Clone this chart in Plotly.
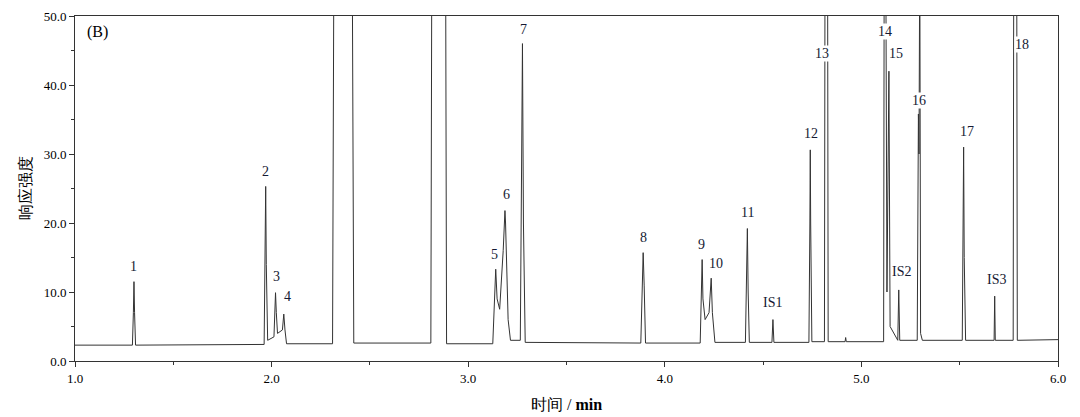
import plotly.graph_objs as go

# chromatogram points (min, response)
time = [1.00, 1.292, 1.297, 1.30, 1.303, 1.308, 1.962, 1.967, 1.97, 1.973, 1.98, 2.012, 2.018, 2.02, 2.024, 2.03,
        2.055, 2.062, 2.068, 2.076, 2.31, 2.317, 2.41, 2.418, 2.81, 2.815, 2.885, 2.89, 3.125, 3.133,
        3.14, 3.147, 3.16, 3.178, 3.187, 3.19, 3.195, 3.203, 3.215, 3.265, 3.272, 3.276, 3.281, 3.29, 3.878, 3.885, 3.89, 3.895,
        3.902, 4.18, 4.186, 4.19, 4.194, 4.205, 4.225, 4.232, 4.236, 4.242, 4.255, 4.41, 4.416, 4.42, 4.424, 4.43,
        4.545, 4.55, 4.555, 4.733, 4.738, 4.74, 4.742, 4.748, 4.812, 4.815, 4.828, 4.831, 4.917, 4.92,
        4.923, 5.113, 5.116, 5.124, 5.13, 5.14, 5.146, 5.185, 5.19, 5.195, 5.284, 5.29, 5.293, 5.297,
        5.301, 5.31, 5.513, 5.517, 5.52, 5.523, 5.53, 5.675, 5.678, 5.681, 5.772, 5.775, 5.79, 5.793, 6.00]
signal = [2.3, 2.3, 7, 11.5, 7, 2.3, 2.4, 14, 25.3, 14, 3, 3.5, 8, 9.9, 7, 4,
          4.5, 6.8, 4.5, 2.5, 2.5, 60, 60, 2.6, 2.6, 60, 60, 2.5, 2.5, 9,
          13.3, 9, 7.5, 16, 21.8, 20, 15, 6, 3, 3, 30, 46.0, 20, 2.7, 2.6, 11, 15.7, 11,
          2.6, 2.6, 10, 14.7, 9, 6, 7, 11.5, 12.0, 7, 2.7, 2.7, 12, 19.2, 10, 2.7,
          2.7, 6.0, 2.7, 2.7, 20, 30.6, 20, 2.8, 2.8, 60, 60, 2.8, 2.8, 3.4,
          2.8, 2.8, 60, 60, 10, 42, 5, 3, 10.3, 3, 3, 35.8, 30, 60,
          4, 3, 3, 22, 31.0, 15, 3, 3, 9.4, 3, 3, 60, 60, 3, 3.1]

peak_names = ['1', '2', '3', '4', '5', '6', '7', '8', '9', '10', '11', 'IS1', '12', '13',
              '14', '15', 'IS2', '16', '17', 'IS3', '18']
peak_x = [1.30, 1.97, 2.025, 2.08, 3.135, 3.195, 3.28, 3.89, 4.185, 4.26, 4.42, 4.55, 4.745, 4.80,
          5.12, 5.175, 5.205, 5.295, 5.535, 5.685, 5.815]
peak_y = [13.7, 27.4, 12.2, 9.3, 15.5, 24.2, 48.0, 17.9, 16.9, 14.2, 21.5, 8.5, 33.0, 44.5,
          47.8, 44.5, 13.0, 37.8, 33.2, 11.8, 45.8]
boxed = ['13', '14', '15', '16', '18', 'IS2']

serif = 'Liberation Serif, Times New Roman, serif'

fig = go.Figure(go.Scatter(x=time, y=signal, mode='lines',
                           line=dict(color='#333333', width=1), showlegend=False))

for n, x, y in zip(peak_names, peak_x, peak_y):
    fig.add_annotation(x=x, y=y, text=n, showarrow=False,
                       font=dict(family=serif, size=14, color='#151a33'),
                       bgcolor='white' if n in boxed else 'rgba(0,0,0,0)', borderpad=0)

fig.add_annotation(x=0.01, y=0.985, xref='paper', yref='paper', text='(B)', showarrow=False,
                   xanchor='left', yanchor='top', font=dict(family=serif, size=16, color='black'))

axis = dict(showline=True, linecolor='#333333', linewidth=1, mirror=True, showgrid=False,
            zeroline=False, ticks='outside', ticklen=5, tickcolor='#333333',
            tickfont=dict(family=serif, size=13, color='black'))
fig.update_layout(
    width=1080, height=417, plot_bgcolor='white', paper_bgcolor='white',
    margin=dict(l=67, r=30, t=8, b=64, autoexpand=False),
    xaxis=dict(axis, range=[1, 6], dtick=1, tickformat='.1f',
               minor=dict(dtick=0.5, ticks='outside', ticklen=3, tickcolor='#333333'),
               title=dict(text='时间 / <b>min</b>', font=dict(family=serif, size=16, color='black'), standoff=14)),
    yaxis=dict(axis, range=[0, 50], dtick=10, tickformat='.1f',
               minor=dict(dtick=5, ticks='outside', ticklen=3, tickcolor='#333333'),
               title=dict(text='响应强度', font=dict(family=serif, size=16, color='black'), standoff=8)),
)

fig.write_html("out.html")
